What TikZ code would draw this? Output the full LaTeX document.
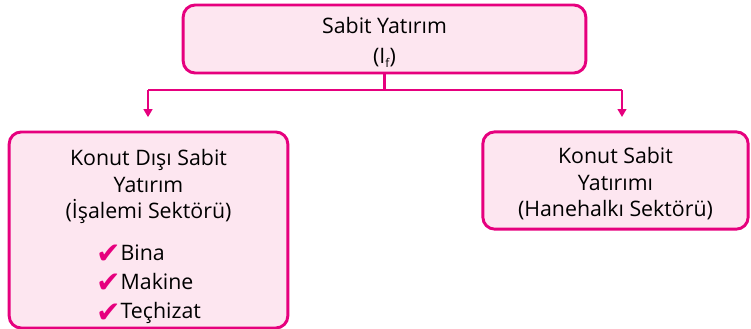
\documentclass[tikz,border=0pt]{standalone}
\usepackage{fontspec}
\setmainfont{Open Sans}
\newfontfamily\symfont{DejaVu Sans}
\usetikzlibrary{arrows.meta}

\definecolor{kmagenta}{HTML}{E6007E}
\definecolor{kpink}{HTML}{FDE6F0}
\newcommand{\chk}{\raisebox{-2.5pt}{\symfont\fontsize{22}{22}\selectfont\color{kmagenta}\char"2714}}

\tikzset{
  kutu/.style={draw=kmagenta, fill=kpink, line width=2.2pt, rounded corners=9pt,
    align=center, inner sep=0pt, font=\fontsize{16}{20}\selectfont},
  baglanti/.style={draw=kmagenta, line width=2pt},
  ok/.style={baglanti, -{Triangle[length=6pt,width=6.5pt]}}
}

\begin{document}
\begin{tikzpicture}[x=0.75pt,y=-0.75pt]
  \useasboundingbox (0,0) rectangle (751,329);

  % kutular
  \node[kutu, minimum width=302pt, minimum height=51pt] (sabit) at (384.5,39)
    {\rule{0pt}{17pt}Sabit Yatırım\\[2pt](I{\fontsize{9}{9}\selectfont\raisebox{-3pt}{f}})};
  \node[kutu, minimum width=209pt, minimum height=147pt] (konutdisi) at (148.5,230)
    {\rule{0pt}{24pt}Konut Dışı Sabit\\Yatırım\\(İşalemi Sektörü)\\[11pt]
     \begin{tabular}[t]{@{}l@{}}\chk Bina\\[2pt] \chk Makine\\[2pt] \chk Teçhizat\end{tabular}};
  \node[kutu, minimum width=199pt, minimum height=73pt] (konut) at (615.5,180.5)
    {\rule{0pt}{17pt}Konut Sabit\\Yatırımı\\(Hanehalkı Sektörü)};

  % baglantilar
  \coordinate (solkol) at (148,90);
  \coordinate (sagkol) at (622,90);
  \draw[baglanti] (sabit.south) -- (sabit.south |- solkol);
  \draw[baglanti] (solkol) -- (sagkol);
  \draw[ok, shorten >=10pt] (solkol) -- (solkol |- konutdisi.north);
  \draw[ok, shorten >=10pt] (sagkol) -- (sagkol |- konut.north);
\end{tikzpicture}
\end{document}
